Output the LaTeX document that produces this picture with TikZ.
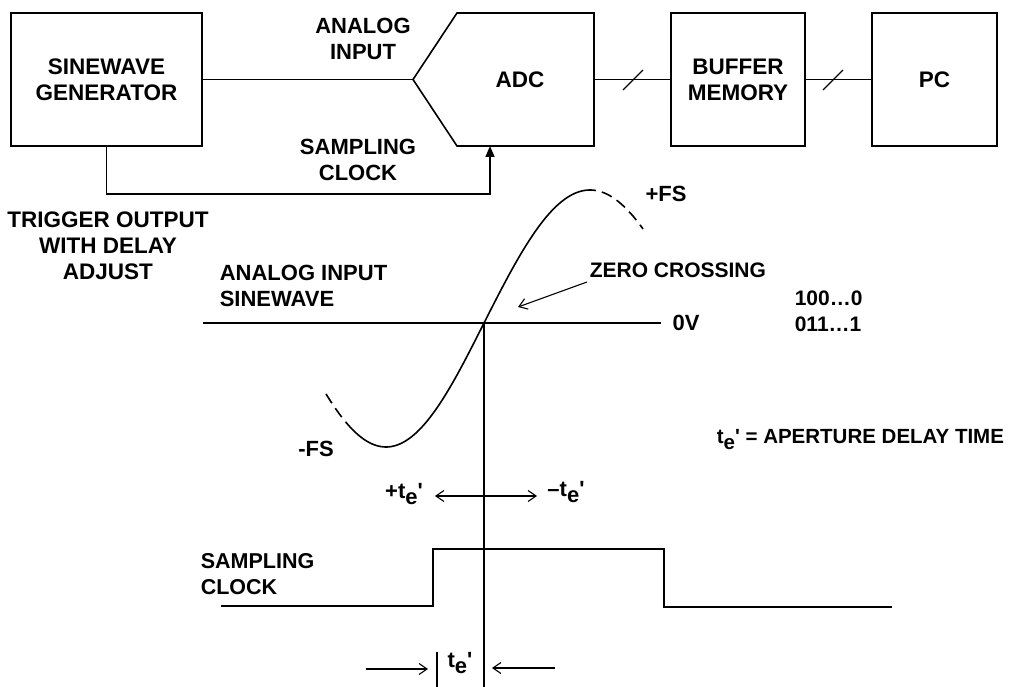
\documentclass[tikz,border=0pt]{standalone}
\usepackage{fontspec}
\newfontfamily\labfont{Liberation Sans}
\usetikzlibrary{arrows.meta}
\newcommand\tesub{t\raisebox{-6pt}{e}'}
\begin{document}
\begin{tikzpicture}[x=1pt,y=-1pt, line width=1.6pt,
  fsz/.style={font=\labfont\fontsize{#1}{26}\selectfont\bfseries},
  lbl/.style={fsz=22, align=center, inner sep=0pt},
  lbll/.style={lbl, align=left},
  box/.style={draw, lbl, inner sep=0pt, outer sep=0pt, minimum height=133pt},
  barb/.style={line width=1.1pt, -{Straight Barb[length=8pt,width=11pt]}},
  dbarb/.style={line width=1.1pt, {Straight Barb[length=8pt,width=11pt]}-{Straight Barb[length=8pt,width=11pt]}},
  dashedsine/.style={dash pattern=on 11pt off 6pt}]
\useasboundingbox (0,0) rectangle (1014,687);

% --- block diagram ---
\node[box, minimum width=191pt, fsz=22.5] (gen) at (106.5,79.5) {SINEWAVE\\GENERATOR};
\node[box, minimum width=134pt, fsz=22.5] (buf) at (738,79.5) {BUFFER\\MEMORY};
\node[box, minimum width=125pt, fsz=22.5] (pc) at (934.5,79.5) {PC};

\coordinate (adcin) at (413,79.5);
\coordinate (adcout) at (594,79.5);
\coordinate (adcclk) at (490,146);
\draw (adcin) -- (457,13) -- (594,13) -- (594,146) -- (457,146) -- cycle;
\node[lbl, fsz=22.5] (adc) at (520,80) {ADC};

\draw (gen.east) -- (adcin);
\draw (adcout) -- (buf.west);
\draw (buf.east) -- (pc.west);
\draw[line width=1.1pt] (623,90) -- (643,70);
\draw[line width=1.1pt] (823,90) -- (843,70);
\draw[-{Triangle[length=11pt,width=9pt]}] (gen.south) -- (106.5,194) -| (adcclk);

\node[lbl] (ain) at (363,39) {ANALOG\\INPUT};
\node[lbl] (sclk) at (358,160) {SAMPLING\\CLOCK};
\node[lbl, fsz=22.5] (trig) at (108,246) {TRIGGER OUTPUT\\WITH DELAY\\ADJUST};

% --- timing diagram ---
\coordinate (zc) at (484,323);
\coordinate (zl) at (203,323);
\coordinate (zr) at (661,323);
\coordinate (vb) at (484,687);
\draw (zl) -- (zr);
\node[lbl] (ov) at (686,323) {0V};
\node[lbll, anchor=west] (ais) at (219,286) {ANALOG INPUT\\SINEWAVE};
\draw (zc) -- (vb);

% sine wave
\draw[domain=0:101, samples=60, smooth] plot ({484+\x},{323-133*sin(\x*90/106)});
\draw[dashedsine, domain=101:159, samples=40, smooth] plot ({484+\x},{323-133*sin(\x*90/106)});
\draw[domain=-132:0, samples=60, smooth] plot ({484+\x},{323+124*sin(-\x*90/98)});
\draw[dashedsine, domain=-158:-132, samples=20, smooth] plot ({484+\x},{323+124*sin(-\x*90/98)});

\node[lbl] (pfs) at (666,194) {+FS};
\node[lbl] (mfs) at (316,449) {-FS};
\node[lbl, anchor=west, fsz=21] (zcl) at (589,270) {ZERO CROSSING};
\coordinate (zca) at (587,282);
\coordinate (zcb) at (518,307);
\draw[barb] (zca) -- (zcb);

\node[lbll, anchor=west, fsz=21] (codes) at (794,311) {100…0\\011…1};
\node[lbl, anchor=west, fsz=20.5] (ape) at (716,440) {\tesub\ = APERTURE DELAY TIME};

\coordinate (tl) at (435,496);
\coordinate (tr) at (537,496);
\draw[dbarb] (tl) -- (tr);
\node[lbl] (pte) at (404,494) {+\tesub};
\node[lbl] (mte) at (566,492) {–\tesub};

% clock waveform
\coordinate (c0) at (221,606);
\coordinate (c1) at (433,606);
\coordinate (c2) at (433,549);
\coordinate (c3) at (664,549);
\coordinate (c4) at (664,607);
\coordinate (c5) at (892,607);
\draw (c0) -- (c1) -- (c2) -- (c3) -- (c4) -- (c5);
\node[lbll, anchor=west, fsz=21.5] (sclk2) at (200,574) {SAMPLING\\CLOCK};

% bottom aperture marker
\coordinate (tk1) at (437,652);
\coordinate (tk2) at (437,687);
\draw[line width=1.1pt] (tk1) -- (tk2);
\coordinate (la) at (366,669);
\coordinate (lb) at (428,669);
\coordinate (ra) at (555,668);
\coordinate (rb) at (492,668);
\draw[barb] (la) -- (lb);
\draw[barb] (ra) -- (rb);
\node[lbl] (bte) at (460,663) {\tesub};
\end{tikzpicture}
\end{document}
